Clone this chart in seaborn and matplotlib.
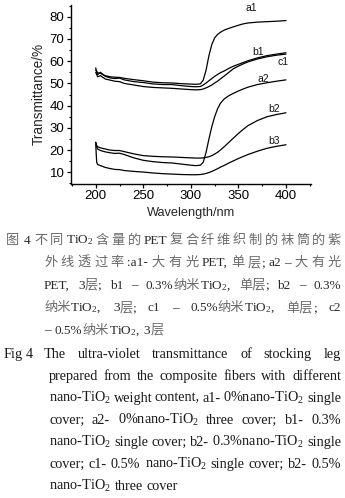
import re
import numpy as np
import pandas as pd
import matplotlib
matplotlib.use("Agg")
import matplotlib.pyplot as plt
from matplotlib.ticker import MultipleLocator
import seaborn as sns

# ---------------- data ----------------
wavelength = [200, 201, 202, 205, 210, 215, 220, 225, 230, 240, 250, 260, 270, 280,
              290, 300, 305, 310, 313, 316, 319, 322, 325, 328, 331, 335, 340, 345,
              350, 355, 360, 370, 380, 390, 400]
a1 = [56, 55.5, 54.8, 54.5, 53.5, 53, 52.8, 52.7, 52.3, 51.7, 51.2, 50.6, 50.3, 50.2,
      49.9, 49.7, 49.6, 49.8, 51.5, 56, 62.5, 67.5, 70.5, 72, 73, 74, 74.8, 75.5,
      76.2, 76.8, 77.2, 77.6, 77.8, 78, 78.3]
b1 = [57, 55, 54, 55, 53.2, 52.5, 52.2, 52.4, 51.6, 50.8, 50.4, 49.8, 49.5, 49.5,
      49, 48.6, 48.5, 48.6, 49.3, 50.2, 51.2, 52.2, 53.2, 54, 54.8, 55.6, 56.8, 57.8,
      58.6, 59.4, 60.2, 61.5, 62.5, 63.2, 63.8]
c1 = [55, 54, 53, 53.5, 52, 51.5, 51, 50.8, 50, 49.3, 48.6, 48.2, 48, 47.8,
      47.5, 47.2, 47.1, 47.2, 47.5, 48, 48.6, 49.3, 50.2, 51, 52, 53.3, 55, 56.7,
      57.8, 58.8, 59.7, 61, 62, 62.7, 63.2]
a2 = [23.5, 21.5, 20.5, 19.8, 19.2, 18.8, 18.5, 18.6, 18, 16.5, 15.4, 14.8, 14.4, 14.2,
      13.7, 13.2, 13, 13.2, 14.5, 19, 25, 30.5, 35, 38.5, 41, 43, 44.5, 45.6,
      46.6, 47.5, 48.3, 49.5, 50.3, 51, 51.6]
b2 = [23.5, 22, 21.5, 21, 20.5, 20, 19.8, 19.8, 19.3, 18.3, 17.5, 17.2, 17, 16.9,
      16.7, 16.5, 16.4, 16.4, 16.5, 16.7, 17, 17.5, 18.2, 19, 20, 21.5, 23.5, 25.5,
      27.5, 29.3, 31, 33.3, 35, 36, 36.8]
b3 = [22.5, 14.5, 13.5, 13, 12.2, 11.7, 11.3, 11.2, 10.8, 10.4, 10.1, 9.7, 9.4, 9.2,
      9, 8.9, 8.9, 9.0, 9.2, 9.5, 9.9, 10.4, 11, 11.6, 12.3, 13.1, 14.2, 15.2,
      16.2, 17.1, 18, 19.5, 20.8, 21.7, 22.4]
series_names = ["a1", "b1", "c1", "a2", "b2", "b3"]
series_values = [a1, b1, c1, a2, b2, b3]

x_ticks = [200, 250, 300, 350, 400]
y_ticks = [10, 20, 30, 40, 50, 60, 70, 80]

label_x = [364, 371, 397, 376, 387, 387]
label_y = [83.8, 64.2, 59.7, 52.2, 38.7, 24.1]

# ---------------- style ----------------
sns.set_style("ticks")
plt.rcParams["font.family"] = ["Liberation Sans", "DejaVu Sans"]
plt.rcParams["mathtext.fontset"] = "custom"
plt.rcParams["mathtext.rm"] = "Liberation Serif"
plt.rcParams["mathtext.it"] = "Liberation Serif:italic"
plt.rcParams["mathtext.bf"] = "Liberation Serif:bold"

W, H = 345, 498
fig = plt.figure(figsize=(W / 100, H / 100), dpi=100)
fig.patch.set_facecolor("white")

ax = fig.add_axes([71 / W, 1 - 183.7 / H, 240 / W, 178.7 / H])
ax.set_facecolor("white")

df = pd.DataFrame({
    "wl": np.tile(wavelength, len(series_names)),
    "T": np.concatenate(series_values),
    "s": np.repeat(series_names, len(wavelength)),
})
sns.lineplot(data=df, x="wl", y="T", hue="s", palette=["black"] * len(series_names),
             estimator=None, sort=False, legend=False, linewidth=0.9, ax=ax)

for name, lx, ly in zip(series_names, label_x, label_y):
    ax.text(lx, ly, name, fontsize=7.5, ha="center", va="center", color="#111111")

ax.set_xlim(174, 426.3)
ax.set_ylim(4.87, 85.3)
ax.set_xticks(x_ticks)
ax.set_yticks(y_ticks)
ax.xaxis.set_minor_locator(MultipleLocator(25))
ax.yaxis.set_minor_locator(MultipleLocator(5))
for s in ["top", "right"]:
    ax.spines[s].set_visible(False)
for s in ["left", "bottom"]:
    ax.spines[s].set_linewidth(1.0)
    ax.spines[s].set_color("black")
ax.tick_params(which="major", direction="out", length=2.8, width=0.9, labelsize=9.5,
               colors="black", pad=2)
ax.tick_params(which="minor", direction="out", length=1.6, width=0.8, colors="black")
ax.set_xlabel("Wavelength/nm", fontsize=9.2, labelpad=3)
ax.set_ylabel("Transmittance/%", fontsize=9.8, labelpad=3)

# ---------------- caption ----------------
renderer = fig.canvas.get_renderer()
CJK = re.compile(r"([\u3000-\u303f\u4e00-\u9fff\uff00-\uffef]+)")
SERIF = ["Liberation Serif", "Noto Sans CJK SC", "DejaVu Serif"]


def runs(tok):
    parts = [p for p in CJK.split(tok) if p]
    return [(p, bool(CJK.fullmatch(p))) for p in parts]


def make_token(tok, size, lc, cc):
    items = []
    for part, is_cjk in runs(tok):
        t = fig.text(0, 0, part, fontsize=size, family=SERIF,
                     color=cc if is_cjk else lc, ha="left", va="baseline")
        items.append((t, t.get_window_extent(renderer).width))
    return items, sum(w for _, w in items)


def put_line(tokens, x0, yc, size, lc, cc, x1=None, gap=4.0):
    yb = yc + size * 0.44
    made = [make_token(t, size, lc, cc) for t in tokens]
    total = sum(w for _, w in made)
    if x1 is not None and len(made) > 1:
        g = (x1 - x0 - total) / (len(made) - 1)
    else:
        g = gap
    x = x0
    for items, w in made:
        cx = x
        for t, tw in items:
            t.set_position((cx / W, 1 - yb / H))
            cx += tw
        x += w + g


CN_SIZE, EN_SIZE = 9.5, 10.3
LAT_CN, CJK_COL, EN_COL = "#2a2a2a", "#6a6a6a", "#1a1a1a"
RIGHT = 341

cn_y = [239.5, 262, 284.5, 307, 329.5]
put_line(["图", "4"], 6, cn_y[0], CN_SIZE, LAT_CN, CJK_COL, x1=30)
put_line(["不", "同", "TiO$_2$", "含", "量", "的", "PET", "复", "合", "纤", "维", "织",
          "制", "的", "袜", "筒", "的", "紫"], 34, cn_y[0], CN_SIZE, LAT_CN, CJK_COL, x1=RIGHT)
put_line(["外", "线", "透", "过", "率", ":a1-", "大", "有", "光", "PET,", "单", "层;",
          "a2", "–", "大", "有", "光"], 44, cn_y[1], CN_SIZE, LAT_CN, CJK_COL, x1=RIGHT)
put_line(["PET,", "3层;", "b1", "–", "0.3%纳米TiO$_2$,", "单层;", "b2", "–", "0.3%"],
         44, cn_y[2], CN_SIZE, LAT_CN, CJK_COL, x1=RIGHT)
put_line(["纳米TiO$_2$,", "3层;", "c1", "–", "0.5%纳米TiO$_2$,", "单层;", "c2"],
         44, cn_y[3], CN_SIZE, LAT_CN, CJK_COL, x1=RIGHT)
put_line(["–", "0.5%纳米TiO$_2$,", "3层"], 44, cn_y[4], CN_SIZE, LAT_CN, CJK_COL, gap=4)

en_y = [353, 375, 397, 419, 441, 463, 485]
put_line(["Fig", "4"], 4, en_y[0], EN_SIZE, EN_COL, EN_COL, x1=33)
put_line(["The", "ultra-violet", "transmittance", "of", "stocking", "leg"],
         43.5, en_y[0], EN_SIZE, EN_COL, EN_COL, x1=RIGHT)
put_line(["prepared", "from", "the", "composite", "fibers", "with", "different"],
         49, en_y[1], EN_SIZE, EN_COL, EN_COL, x1=RIGHT)
put_line(["nano-TiO$_2$", "weight", "content,", "a1-", "0%nano-TiO$_2$", "single"],
         49, en_y[2], EN_SIZE, EN_COL, EN_COL, x1=RIGHT)
put_line(["cover;", "a2-", "0%nano-TiO$_2$", "three", "cover;", "b1-", "0.3%"],
         49, en_y[3], EN_SIZE, EN_COL, EN_COL, x1=RIGHT)
put_line(["nano-TiO$_2$", "single", "cover;", "b2-", "0.3%nano-TiO$_2$", "single"],
         49, en_y[4], EN_SIZE, EN_COL, EN_COL, x1=RIGHT)
put_line(["cover;", "c1-", "0.5%", "nano-TiO$_2$", "single", "cover;", "b2-", "0.5%"],
         49, en_y[5], EN_SIZE, EN_COL, EN_COL, x1=RIGHT)
put_line(["nano-TiO$_2$", "three", "cover"], 49, en_y[6], EN_SIZE, EN_COL, EN_COL, gap=3.6)

fig.savefig("out.png", dpi=100, facecolor="white")
